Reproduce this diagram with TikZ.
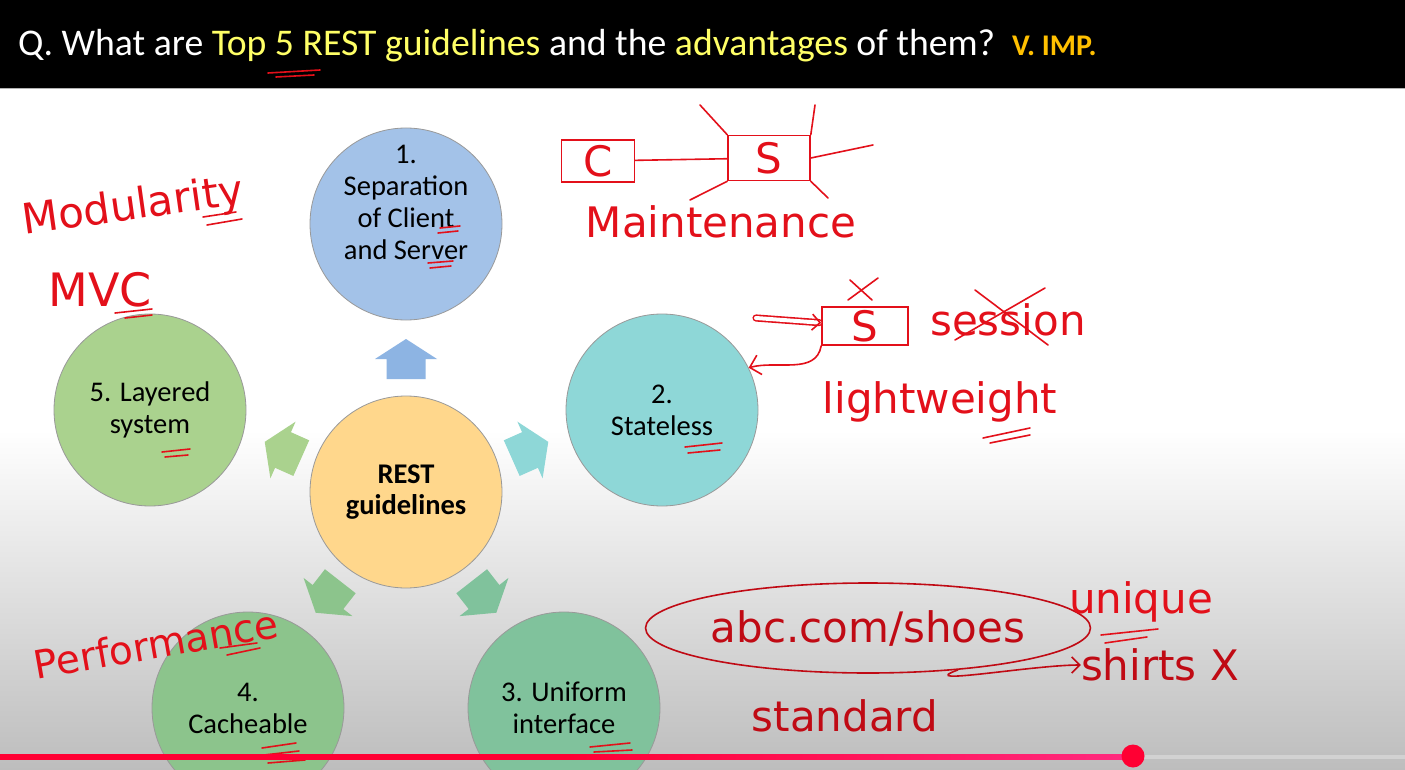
\documentclass[tikz,border=0pt]{standalone}
\usepackage{fontspec}
\setmainfont{Carlito}
\newfontfamily\handfont{DejaVu Sans}
\usetikzlibrary{shapes.geometric,arrows.meta}

\definecolor{titleyellow}{HTML}{FFFF66}
\definecolor{impgold}{HTML}{FFC000}
\definecolor{bggray}{HTML}{BDBDBD}
\definecolor{handred}{HTML}{E3101A}
\definecolor{darkhand}{HTML}{C00A14}
\definecolor{progred}{HTML}{FF0033}
\definecolor{progpink}{HTML}{FF2A7F}
\definecolor{blueball}{HTML}{A3C2E8}
\definecolor{bluearrow}{HTML}{8DB4E3}
\definecolor{tealball}{HTML}{8ED7D7}
\definecolor{seaball}{HTML}{80C29C}
\definecolor{greenball}{HTML}{8CC48C}
\definecolor{limeball}{HTML}{AAD28E}
\definecolor{restball}{HTML}{FFD78C}

\begin{document}
\begin{tikzpicture}[x=1pt,y=-1pt,
  bubble/.style={circle, draw=gray!80, line width=0.8pt, minimum size=192pt,
    inner sep=0pt, align=center, text=black, font=\fontsize{28.5}{32}\selectfont},
  hand/.style={text=handred, inner sep=0pt, font=\handfont\fontsize{42}{46}\selectfont},
  handbox/.style={hand, draw=handred, line width=1.6pt, inner sep=0pt},
  handline/.style={draw=handred, line width=1.6pt, line cap=round}]
\useasboundingbox (0,0) rectangle (1405,770);

% slide background
\fill[white] (0,88) rectangle (1405,770);
\shade[top color=white, bottom color=bggray] (0,430) rectangle (1405,770);
\fill[black] (0,0) rectangle (1405,88);
\draw[gray!60] (0,88.5) -- (1405,88.5);

% title
\node[anchor=base west, text=white, inner sep=0pt, font=\fontsize{37.7}{42}\selectfont] (title) at (18,56)
  {Q. What are \textcolor{titleyellow}{Top 5 REST guidelines} and the \textcolor{titleyellow}{advantages} of them?\hspace{17pt}\textcolor{impgold}{\fontsize{30}{34}\selectfont\bfseries V. IMP.}};
\draw[handline] (268,73) -- (320,70);
\draw[handline] (276,77) -- (314,75);

% circles
\node[bubble, fill=restball, font=\fontsize{28.5}{31}\selectfont\bfseries] (rest) at (406,492) {REST\\guidelines};
\node[bubble, fill=blueball] (sep) at (406,224) {};
\node[align=center, font=\fontsize{28.5}{32}\selectfont] (septext) at (406,202) {1.\\Separation\\of Client\\and Server};
\node[bubble, fill=tealball] (stateless) at (662,410) {2.\\Stateless};
\node[bubble, fill=seaball] (uniform) at (564,708) {3. Uniform\\interface};
\node[bubble, fill=greenball] (cache) at (248,708) {4.\\Cacheable};
\node[bubble, fill=limeball] (layered) at (150,410) {5. Layered\\system};

% block arrows
\foreach \x/\y/\ang/\col in {406/359/90/bluearrow, 530/450/24/tealball, 484/597/-52/seaball,
    328/597/-128/greenball, 283/450/156/limeball}
  \fill[\col, shift={(\x,\y)}, rotate=\ang]
    (-20,-19.5) -- (0,-19.5) -- (0,-31) -- (20,0) -- (0,31) -- (0,19.5) -- (-20,19.5) -- cycle;

% marks on the circle texts
\draw[handline] (440,228) -- (460,226);
\draw[handline] (438,233) -- (458,231);
\draw[handline] (428,263) -- (453,261);
\draw[handline] (430,268) -- (451,266);
\draw[handline] (685,447) -- (722,443);
\draw[handline] (688,453) -- (720,450);
\draw[handline] (162,452) -- (190,449);
\draw[handline] (165,457) -- (188,455);
\draw[handline] (262,748) -- (296,743);
\draw[handline] (264,755) -- (299,751);
\draw[handline] (268,763) -- (305,760);
\draw[handline] (590,747) -- (630,743);
\draw[handline] (594,752) -- (632,750);

% Modularity / MVC
\node[hand, rotate=8] (modularity) at (133,208) {Modularity};
\draw[handline] (203,217) -- (236,212);
\draw[handline] (207,225) -- (242,219);
\node[hand, font=\handfont\fontsize{46}{50}\selectfont] (mvc) at (100,290) {MVC};
\draw[handline] (115,313) -- (152,309);
\draw[handline] (125,318) -- (152,315);

% client / server
\node[handbox, minimum width=73pt, minimum height=42pt] (cbox) at (598,161) {C};
\node[handbox, minimum width=82pt, minimum height=45pt] (sbox) at (769,158) {S};
\draw[handline] (cbox) -- (sbox);
\coordinate (s1) at (700,105);
\coordinate (s2) at (815,105);
\coordinate (s3) at (873,145);
\coordinate (s4) at (828,198);
\coordinate (s5) at (690,200);
\draw[handline] (sbox.north west) -- (s1);
\draw[handline] (sbox.north east) -- (s2);
\draw[handline] (sbox.east) -- (s3);
\draw[handline] (sbox.south east) -- (s4);
\draw[handline] (sbox.south west) -- (s5);
\node[hand] (maint) at (721,222) {Maintenance};

% stateless notes
\node[handbox, minimum width=86pt, minimum height=38pt] (sbox2) at (865,326) {S};
\coordinate (inflow) at (756,318);
\draw[handline, double, double distance=4pt, -{Straight Barb[length=8pt]}] (inflow) -- (sbox2);
\draw[handline] (848,300) -- (878,278);
\draw[handline] (850,280) -- (872,300);
\draw[handline, -{Straight Barb[length=10pt]}] (sbox2.south west) to[out=-100, in=15] (stateless.26);
\node[hand] (session) at (1008,320) {session};
\draw[handline] (975,290) -- (1048,345);
\draw[handline] (1045,288) -- (955,340);
\node[hand] (light) at (940,402) {lightweight};
\draw[handline] (983,438) -- (1030,428);
\draw[handline] (990,443) -- (1030,435);

% performance
\node[hand, rotate=10, font=\handfont\fontsize{39}{43}\selectfont] (perf) at (156,644) {Performance};
\draw[handline] (220,648) -- (257,643);
\draw[handline] (227,655) -- (260,648);

% uniform interface notes
\node[hand, text=darkhand, ellipse, draw=darkhand, line width=1.6pt, minimum width=352pt, minimum height=90pt] (url) at (868,628) {abc.com/shoes};
\node[hand] (unique) at (1141,602) {unique};
\draw[handline] (1101,635) -- (1158,629);
\draw[handline] (1105,643) -- (1147,637);
\node[hand, text=darkhand] (shirts) at (1160,665) {shirts X};
\draw[handline, draw=darkhand, -{Straight Barb[length=8pt]}] (url.-25) to[out=200, in=180] (shirts.west);
\node[hand, text=darkhand] (standard) at (845,716) {standard};

% progress bar
\shade[left color=progred, right color=progpink, middle color=progred] (0,754.5) rectangle (1133,759.5);
\fill[gray!35] (1133,755) rectangle (1405,759);
\fill[progred] (1133,756) circle (11.5);
\end{tikzpicture}
\end{document}
